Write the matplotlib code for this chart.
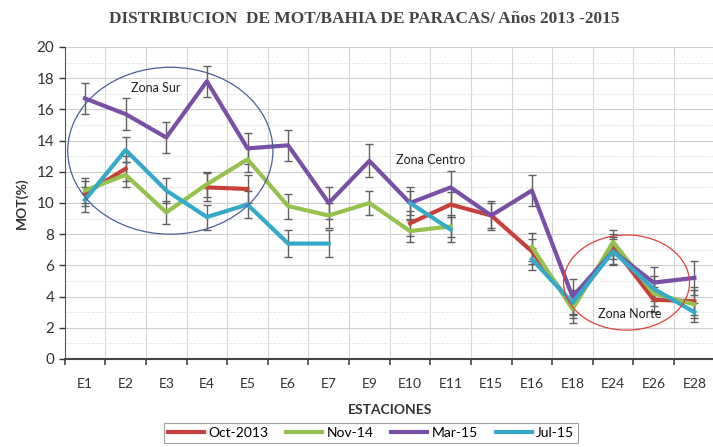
import numpy as np
import matplotlib
matplotlib.use("Agg")
import matplotlib.pyplot as plt
from matplotlib.patches import Ellipse

plt.rcParams['font.family'] = ['Lato', 'DejaVu Sans']

nan = np.nan
estaciones = ['E1', 'E2', 'E3', 'E4', 'E5', 'E6', 'E7', 'E9', 'E10', 'E11',
              'E15', 'E16', 'E18', 'E24', 'E26', 'E28']

oct13 = [10.6, 12.2, nan, 11.0, 10.9, nan, nan, nan, 8.7, 9.9, 9.2, 6.9, 3.4, 7.2, 3.8, 3.7]
nov14 = [10.8, 11.8, 9.4, 11.2, 12.8, 9.8, 9.2, 10.0, 8.2, 8.5, nan, 7.2, 3.2, 7.5, 4.2, 3.5]
mar15 = [16.7, 15.7, 14.2, 17.8, 13.5, 13.7, 10.0, 12.7, 10.0, 11.0, 9.2, 10.8, 4.0, 6.9, 4.9, 5.2]
jul15 = [10.2, 13.4, 10.8, 9.1, 9.9, 7.4, 7.4, nan, 10.0, 8.3, nan, 6.4, 3.6, 6.9, 4.5, 3.0]

err_oct = [0.8, 0.8, 0.8, 0.9, 0.9, 0.8, 0.8, 0.8, 0.8, 0.8, 0.8, 0.8, 0.8, 0.8, 0.8, 0.9]
err_nov = [0.8, 0.8, 0.75, 0.8, 0.8, 0.8, 0.8, 0.8, 0.7, 0.7, 0.8, 0.9, 0.9, 0.8, 0.8, 0.9]
err_mar = [1.0, 1.05, 1.0, 1.0, 1.0, 1.0, 1.0, 1.05, 1.0, 1.05, 0.9, 1.0, 1.1, 0.9, 1.0, 1.1]
err_jul = [0.8, 0.8, 0.8, 0.8, 0.85, 0.85, 0.85, 0.8, 0.8, 0.8, 0.8, 0.7, 0.8, 0.8, 0.8, 0.6]

series = [('Oct-2013', oct13, err_oct, '#c8403a'),
          ('Nov-14', nov14, err_nov, '#94c24c'),
          ('Mar-15', mar15, err_mar, '#7a4fa6'),
          ('Jul-15', jul15, err_jul, '#35a9c9')]

fig = plt.figure(figsize=(7.13, 4.47), dpi=100)
ax = fig.add_axes([64.7 / 713, 1 - 359 / 447, 650 / 713, 312 / 447])

x = np.arange(len(estaciones))
for name, vals, err, col in series:
    v = np.array(vals)
    ax.errorbar(x, v, yerr=err, fmt='none', ecolor='#606060', elinewidth=1,
                capsize=3, capthick=1, zorder=2)
    ax.plot(x, v, color=col, lw=3, label=name, zorder=3)

# zonas
ax.add_patch(Ellipse((2.1, 13.35), 5.05, 10.7, fill=False, edgecolor='#4a5f9a', lw=0.9, zorder=4))
ax.add_patch(Ellipse((13.33, 4.9), 3.1, 6.1, fill=False, edgecolor='#e0403a', lw=0.9, zorder=4))
ax.text(1.75, 17.4, 'Zona Sur', fontsize=9, ha='center', va='center', color='#222222')
ax.text(8.5, 12.75, 'Zona Centro', fontsize=9, ha='center', va='center', color='#222222')
ax.text(13.4, 2.9, 'Zona Norte', fontsize=9, ha='center', va='center', color='#222222')

ax.set_xlim(-0.5, 15.5)
ax.set_ylim(0, 20)
ax.set_xticks(x)
ax.set_xticklabels(estaciones)
ax.set_xticks(np.arange(-0.5, 16, 1), minor=True)
ax.set_yticks(np.arange(0, 21, 2))
ax.set_yticks(np.arange(1, 20, 2), minor=True)
ax.tick_params(axis='x', which='major', length=0, pad=14, labelsize=10, colors='#333333')
ax.tick_params(axis='x', which='minor', length=4, width=1.2, color='#444444')
ax.tick_params(axis='y', which='major', length=4, width=1, labelsize=11, colors='#333333')
ax.tick_params(axis='y', which='minor', length=0)
ax.grid(True, which='major', axis='y', color='#cfcfcf', lw=0.8)
ax.grid(True, which='minor', axis='y', color='#e3e3e3', lw=0.6, ls='--')
ax.grid(True, which='minor', axis='x', color='#d6d6d6', lw=0.8)
ax.set_axisbelow(True)
for s in ['top', 'right']:
    ax.spines[s].set_visible(False)
ax.spines['left'].set_color('#555555')
ax.spines['bottom'].set_color('#444444')
ax.spines['bottom'].set_linewidth(1.5)

ax.set_ylabel('MOT(%)', fontsize=10, fontweight='bold', color='#333333', labelpad=6)
ax.set_xlabel('ESTACIONES', fontsize=10, fontweight='bold', color='#333333', labelpad=10)

fig.text(364 / 713, 1 - 19 / 447, 'DISTRIBUCION  DE MOT/BAHIA DE PARACAS/ Años 2013 -2015',
         family=['Liberation Serif', 'DejaVu Serif'], fontweight='bold', fontsize=12.4,
         color='#444444', ha='center', va='center')

leg = fig.legend(loc='upper center', bbox_to_anchor=(371 / 713, 1 - 423 / 447), ncol=4,
                 fontsize=10, frameon=True, fancybox=False, handlelength=2.6,
                 columnspacing=1.3, borderpad=0.3, handletextpad=0.3, borderaxespad=0)
leg.get_frame().set_edgecolor('#888888')
leg.get_frame().set_linewidth(0.8)

fig.savefig('out.png', dpi=100)
